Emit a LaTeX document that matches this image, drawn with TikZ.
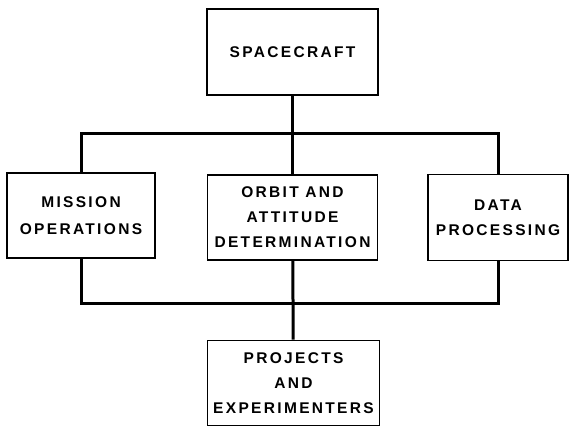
\documentclass[tikz,border=0pt]{standalone}
\usepackage{fontspec}
\newfontfamily\chuhop[LetterSpace=15]{Liberation Sans}
\usetikzlibrary{calc, positioning}

\tikzset{
    hop/.style={draw, line width=1.8pt, align=center, inner sep=0pt,
        font=\chuhop\bfseries\fontsize{15.5}{25}\selectfont},
    day/.style={line width=3pt}
}

\begin{document}
\begin{tikzpicture}[x=1pt, y=-1pt]
    % Khung ảnh
    \useasboundingbox (0,0) rectangle (569,428);

    % Các hộp
    \node[hop, minimum width=171pt, minimum height=86pt] (spacecraft) at (292.5,52) {SPACECRAFT};
    \node[hop, minimum width=148pt, minimum height=85pt] (mission) at (81,215.5) {MISSION\\[2pt]OPERATIONS};
    \node[hop, minimum width=170pt, minimum height=85pt] (orbit) at (292.5,217.5) {ORBIT AND\\ATTITUDE\\DETERMINATION};
    \node[hop, minimum width=140pt, minimum height=86pt] (data) at (498,217.5) {DATA\\PROCESSING};
    \node[hop, minimum width=172pt, minimum height=85pt] (projects) at (293.5,383) {PROJECTS\\AND\\EXPERIMENTERS};

    % Các điểm nối trên hai đường ngang
    \coordinate (busTren) at (292.5,133);
    \coordinate (busDuoi) at (292.5,303);

    % Đường nối phía trên
    \draw[day] (spacecraft) -- (orbit);
    \draw[day] (mission.north) |- (busTren) -| (data.north);

    % Đường nối phía dưới
    \draw[day] (mission.south) |- (busDuoi) -| (data.south);
    \draw[day] (orbit) -- (projects);
\end{tikzpicture}
\end{document}
